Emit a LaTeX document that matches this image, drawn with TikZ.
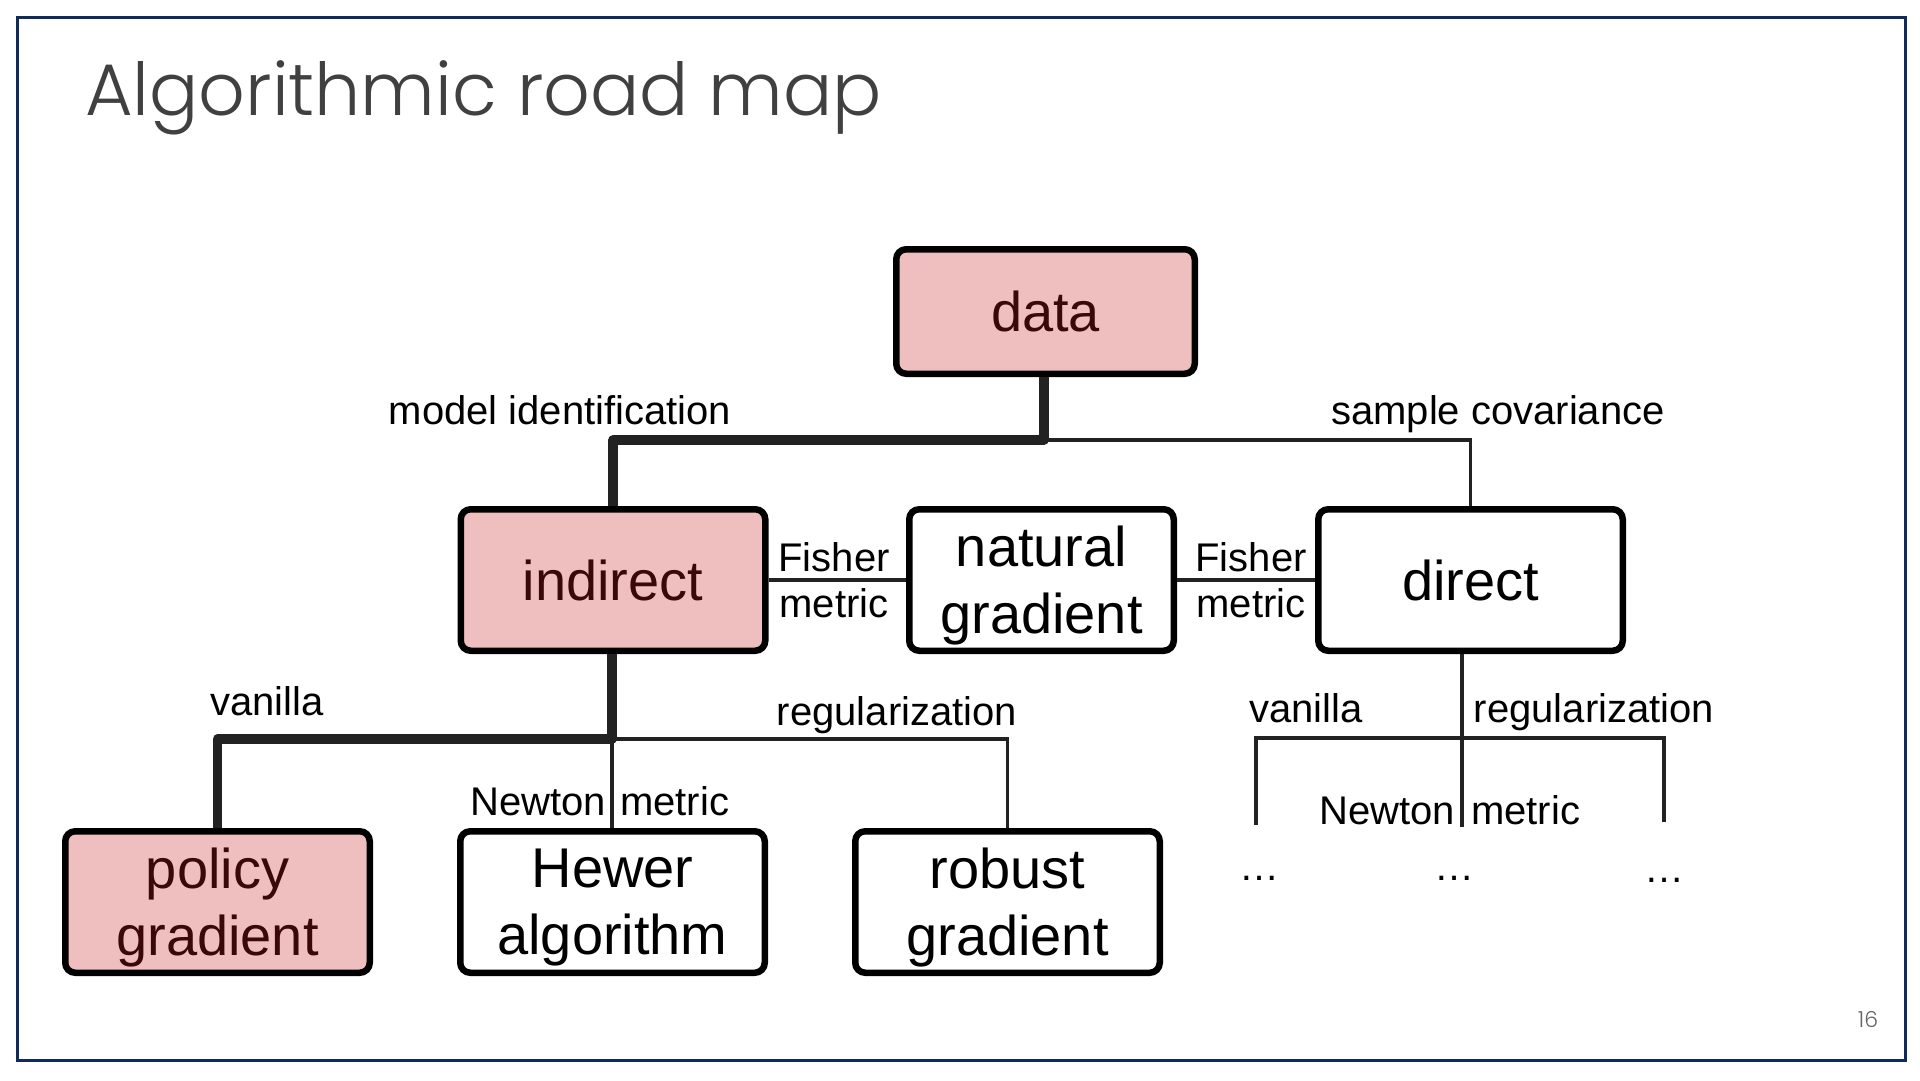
\documentclass[tikz,border=0pt]{standalone}
\usepackage{fontspec}
\setmainfont{Liberation Sans}
\newfontfamily\titlefont{Poppins}[UprightFont={* Light}]
\definecolor{framecol}{RGB}{16,42,90}
\definecolor{titlecol}{RGB}{64,64,64}
\definecolor{linecol}{RGB}{34,34,34}
\definecolor{pinkfill}{RGB}{239,191,191}
\definecolor{darktext}{RGB}{58,8,8}
\begin{document}
\begin{tikzpicture}[x=1pt,y=-1pt,
  box/.style={draw=black, line width=6.5pt, rounded corners=10pt, minimum width=304.5pt, minimum height=141.5pt, align=center, font=\fontsize{56}{67}\selectfont, inner sep=0pt},
  hot/.style={box, fill=pinkfill, text=darktext},
  plain/.style={box, fill=white, text=black},
  two/.style={text depth=0pt},
  lbl/.style={font=\fontsize{40}{46}\selectfont, inner sep=0pt, text=black},
  thickln/.style={line width=9.5pt, draw=linecol, line join=round},
  thinln/.style={line width=3.5pt, draw=linecol}
]
\useasboundingbox (0,0) rectangle (1920,1080);
\fill[white] (0,0) rectangle (1920,1080);
\draw[framecol, line width=3pt] (17,17) rectangle (1905,1060);
\node[anchor=base west, inner sep=0pt, font=\titlefont\fontsize{73}{88}\selectfont, text=titlecol] (title) at (85,115) {Algorithmic road map};
\node[anchor=base, inner sep=0pt, font=\titlefont\fontsize{22}{26}\selectfont, text=titlecol!80] (pnum) at (1868,1027) {16};
% boxes
\node[hot, minimum width=298.5pt, minimum height=124.5pt] (data) at (1045.5,311.5) {data};
\node[hot] (indirect) at (613,580) {indirect};
\node[plain, two, minimum width=264.5pt] (natural) at (1041.5,580) {natural\\gradient};
\node[plain] (direct) at (1470.5,580) {direct};
\node[hot, two] (policy) at (217.5,902) {policy\\gradient};
\node[plain, two] (hewer) at (612.5,902) {Hewer\\algorithm};
\node[plain, two] (robust) at (1007.5,902) {robust\\gradient};
% junctions
\coordinate (j1) at (1044,440);
\coordinate (j2) at (612,739);
\coordinate (j3) at (1462,738);
\coordinate (r1) at (1256,825);
\coordinate (r2) at (1462,827);
\coordinate (r3) at (1664,822);
% connectors
\draw[thinln] (j1) -| (direct.north);
\draw[thickln] (j1 |- data.south) -- (j1) -| (indirect.north);
\draw[thinln] (indirect.east) -- (natural.west);
\draw[thinln] (natural.east) -- (direct.west);
\draw[thinln] (j2) -| (robust.north);
\draw[thinln] (j2) -- (j2 |- hewer.north);
\draw[thickln] (j2 |- indirect.south) -- (j2) -| (policy.north);
\draw[thinln] (j3 |- direct.south) -- (r2);
\draw[thinln] (r1) |- (j3) -| (r3);
% labels
\node[lbl, anchor=base] (mi) at (560,424) {model identification};
\node[lbl, anchor=base] (sc) at (1498,424) {sample covariance};
\node[lbl, anchor=base] (f1) at (834,571) {Fisher};
\node[lbl, anchor=base] (m1) at (834,617) {metric};
\node[lbl, anchor=base] (f2) at (1251,571) {Fisher};
\node[lbl, anchor=base] (m2) at (1251,617) {metric};
\node[lbl, anchor=base] (v1) at (267,715) {vanilla};
\node[lbl, anchor=base] (g1) at (897,725) {regularization};
\node[lbl, anchor=base east] (n1) at (606,815) {Newton};
\node[lbl, anchor=base west] (n1m) at (620,815) {metric};
\node[lbl, anchor=base] (v2) at (1306,722) {vanilla};
\node[lbl, anchor=base] (g2) at (1594,722) {regularization};
\node[lbl, anchor=base east] (n2) at (1455,824) {Newton};
\node[lbl, anchor=base west] (n2m) at (1471,824) {metric};
\node[lbl, anchor=base] (d1) at (1259,880) {\textellipsis};
\node[lbl, anchor=base] (d2) at (1454,880) {\textellipsis};
\node[lbl, anchor=base] (d3) at (1664,882) {\textellipsis};
\end{tikzpicture}
\end{document}
